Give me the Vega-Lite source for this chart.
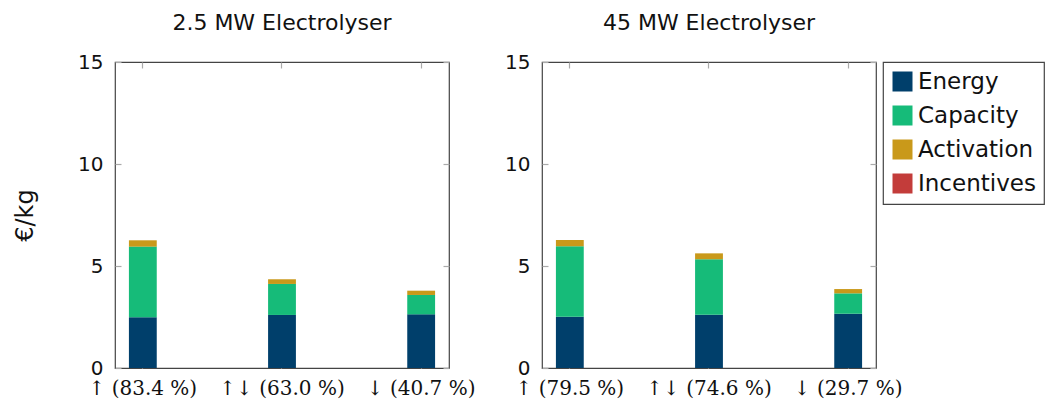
{
  "$schema": "https://vega.github.io/schema/vega-lite/v6.json",
  "background": "white",
  "padding": {"left": 12, "top": 11, "right": 4, "bottom": 2},
  "bounds": "flush",
  "datasets": {
    "costs": [
      {"panel": "small", "scenario": "↑ (83.4 %)", "component": "Energy", "ord": 1, "value": 2.49},
      {"panel": "small", "scenario": "↑ (83.4 %)", "component": "Capacity", "ord": 2, "value": 3.46},
      {"panel": "small", "scenario": "↑ (83.4 %)", "component": "Activation", "ord": 3, "value": 0.31},
      {"panel": "small", "scenario": "↑ (83.4 %)", "component": "Incentives", "ord": 4, "value": 0},
      {"panel": "small", "scenario": "↑↓ (63.0 %)", "component": "Energy", "ord": 1, "value": 2.60},
      {"panel": "small", "scenario": "↑↓ (63.0 %)", "component": "Capacity", "ord": 2, "value": 1.52},
      {"panel": "small", "scenario": "↑↓ (63.0 %)", "component": "Activation", "ord": 3, "value": 0.23},
      {"panel": "small", "scenario": "↑↓ (63.0 %)", "component": "Incentives", "ord": 4, "value": 0},
      {"panel": "small", "scenario": "↓ (40.7 %)", "component": "Energy", "ord": 1, "value": 2.63},
      {"panel": "small", "scenario": "↓ (40.7 %)", "component": "Capacity", "ord": 2, "value": 0.95},
      {"panel": "small", "scenario": "↓ (40.7 %)", "component": "Activation", "ord": 3, "value": 0.21},
      {"panel": "small", "scenario": "↓ (40.7 %)", "component": "Incentives", "ord": 4, "value": 0},
      {"panel": "large", "scenario": "↑ (79.5 %)", "component": "Energy", "ord": 1, "value": 2.51},
      {"panel": "large", "scenario": "↑ (79.5 %)", "component": "Capacity", "ord": 2, "value": 3.46},
      {"panel": "large", "scenario": "↑ (79.5 %)", "component": "Activation", "ord": 3, "value": 0.30},
      {"panel": "large", "scenario": "↑ (79.5 %)", "component": "Incentives", "ord": 4, "value": 0},
      {"panel": "large", "scenario": "↑↓ (74.6 %)", "component": "Energy", "ord": 1, "value": 2.61},
      {"panel": "large", "scenario": "↑↓ (74.6 %)", "component": "Capacity", "ord": 2, "value": 2.72},
      {"panel": "large", "scenario": "↑↓ (74.6 %)", "component": "Activation", "ord": 3, "value": 0.29},
      {"panel": "large", "scenario": "↑↓ (74.6 %)", "component": "Incentives", "ord": 4, "value": 0},
      {"panel": "large", "scenario": "↓ (29.7 %)", "component": "Energy", "ord": 1, "value": 2.66},
      {"panel": "large", "scenario": "↓ (29.7 %)", "component": "Capacity", "ord": 2, "value": 1.00},
      {"panel": "large", "scenario": "↓ (29.7 %)", "component": "Activation", "ord": 3, "value": 0.21},
      {"panel": "large", "scenario": "↓ (29.7 %)", "component": "Incentives", "ord": 4, "value": 0}
    ]
  },
  "spacing": 93,
  "hconcat": [
    {
      "width": 334,
      "height": 306,
      "title": {"text": "2.5 MW Electrolyser"},
      "data": {"name": "costs"},
      "transform": [{"filter": "datum.panel == 'small'"}],
      "layer": [
        {
          "mark": {"type": "bar"},
          "encoding": {
            "x": {"field": "scenario", "type": "nominal", "sort": ["↑ (83.4 %)", "↑↓ (63.0 %)", "↓ (40.7 %)"],
                  "scale": {"paddingInner": 0.8, "paddingOuter": 0.1},
                  "axis": {"orient": "bottom", "title": null, "labelAngle": 0, "labelFont": "DejaVu Serif", "labelFontSize": 20, "labelPadding": 16}},
            "y": {"field": "value", "type": "quantitative", "stack": "zero", "scale": {"domain": [0, 15]},
                  "axis": {"orient": "left", "values": [0, 5, 10, 15], "title": "€/kg", "labelPadding": 18, "titlePadding": 40}},
            "color": {"field": "component", "type": "nominal",
                      "scale": {"domain": ["Energy", "Capacity", "Activation", "Incentives"], "range": ["#003f6b", "#16bb79", "#c9991a", "#c33c3a"]},
                      "legend": {"title": null}},
            "order": {"field": "ord"}
          }
        },
        {
          "mark": {"type": "bar", "opacity": 0},
          "encoding": {
            "x": {"field": "scenario", "type": "nominal", "sort": ["↑ (83.4 %)", "↑↓ (63.0 %)", "↓ (40.7 %)"],
                  "axis": {"orient": "top", "title": null, "labels": false}},
            "y": {"field": "value", "type": "quantitative", "scale": {"domain": [0, 15]},
                  "axis": {"orient": "right", "values": [0, 5, 10, 15], "title": null, "labels": false}}
          }
        }
      ],
      "resolve": {"axis": {"x": "independent", "y": "independent"}}
    },
    {
      "width": 334,
      "height": 306,
      "title": {"text": "45 MW Electrolyser"},
      "data": {"name": "costs"},
      "transform": [{"filter": "datum.panel == 'large'"}],
      "layer": [
        {
          "mark": {"type": "bar"},
          "encoding": {
            "x": {"field": "scenario", "type": "nominal", "sort": ["↑ (79.5 %)", "↑↓ (74.6 %)", "↓ (29.7 %)"],
                  "scale": {"paddingInner": 0.8, "paddingOuter": 0.1},
                  "axis": {"orient": "bottom", "title": null, "labelAngle": 0, "labelFont": "DejaVu Serif", "labelFontSize": 20, "labelPadding": 16}},
            "y": {"field": "value", "type": "quantitative", "stack": "zero", "scale": {"domain": [0, 15]},
                  "axis": {"orient": "left", "values": [0, 5, 10, 15], "title": null, "labelPadding": 18}},
            "color": {"field": "component", "type": "nominal",
                      "scale": {"domain": ["Energy", "Capacity", "Activation", "Incentives"], "range": ["#003f6b", "#16bb79", "#c9991a", "#c33c3a"]},
                      "legend": {"title": null}},
            "order": {"field": "ord"}
          }
        },
        {
          "mark": {"type": "bar", "opacity": 0},
          "encoding": {
            "x": {"field": "scenario", "type": "nominal", "sort": ["↑ (79.5 %)", "↑↓ (74.6 %)", "↓ (29.7 %)"],
                  "axis": {"orient": "top", "title": null, "labels": false}},
            "y": {"field": "value", "type": "quantitative", "scale": {"domain": [0, 15]},
                  "axis": {"orient": "right", "values": [0, 5, 10, 15], "title": null, "labels": false}}
          }
        }
      ],
      "resolve": {"axis": {"x": "independent", "y": "independent"}}
    }
  ],
  "resolve": {"scale": {"color": "shared"}},
  "config": {
    "view": {"stroke": "#444", "strokeWidth": 1.2},
    "axis": {"domain": false, "grid": false, "tickColor": "#aaa", "tickSize": -6, "tickWidth": 1.2,
             "labelFont": "DejaVu Sans", "labelFontSize": 20, "labelColor": "#111",
             "titleFont": "DejaVu Sans", "titleFontSize": 24, "titleFontWeight": "normal", "titleColor": "#111"},
    "title": {"font": "DejaVu Sans", "fontSize": 22, "fontWeight": "normal", "color": "#111", "offset": 17},
    "legend": {"orient": "right", "offset": -20, "strokeColor": "#444", "strokeWidth": 1.2, "padding": 8,
               "labelFont": "DejaVu Sans", "labelFontSize": 23, "labelColor": "#111", "symbolType": "square",
               "symbolSize": 400, "symbolStrokeWidth": 0, "rowPadding": 10, "labelOffset": 4, "symbolOpacity": 1}
  }
}
